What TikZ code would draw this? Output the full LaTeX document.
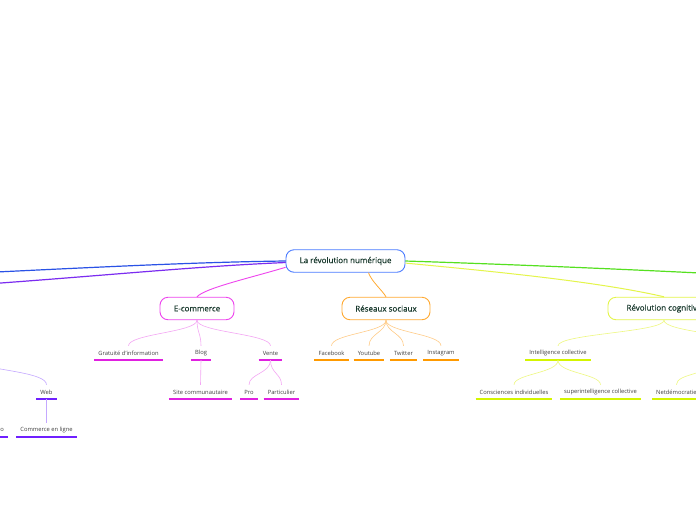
\documentclass[tikz,border=0pt]{standalone}
\usepackage{fontspec}
\setmainfont{Open Sans}
\newfontfamily\semib[FakeBold=0.5]{Open Sans}
\definecolor{ink}{HTML}{1B3B2F}
\definecolor{leafink}{HTML}{404040}
\definecolor{cblue}{HTML}{4A7BFF}
\definecolor{lblue}{HTML}{2A52E6}
\definecolor{lpurple}{HTML}{7B2CF0}
\definecolor{lgreen}{HTML}{55E020}
\definecolor{ylw}{HTML}{E4F54A}
\definecolor{ylwc}{HTML}{EEF880}
\definecolor{ylwu}{HTML}{D4F500}
\definecolor{mag}{HTML}{EE44EE}
\definecolor{magc}{HTML}{F4A6F4}
\definecolor{magu}{HTML}{E020E0}
\definecolor{org}{HTML}{FFAA33}
\definecolor{orgc}{HTML}{FFCC88}
\definecolor{orgu}{HTML}{FF9A00}
\definecolor{purc}{HTML}{C4A8FF}
\definecolor{puru}{HTML}{7020FF}
\tikzset{
  mainbox/.style={draw, rounded corners=8pt, line width=0.9pt, minimum height=22.5pt,
    inner sep=0pt, font=\semib\fontsize{8}{10}\selectfont, text=ink, fill=white},
  leaf/.style={minimum height=14pt, inner ysep=0pt, inner xsep=4pt,
    font=\fontsize{5.8}{7}\selectfont, text=leafink},
  trunk/.style={line width=1.2pt},
  twig/.style={line width=0.6pt},
  uline/.style={line width=1.5pt}
}
\begin{document}
\begin{tikzpicture}[x=1pt,y=-1pt]
\useasboundingbox (0,0) rectangle (696,520);
\clip (0,0) rectangle (696,520);
\fill[white] (0,0) rectangle (696,520);

% off-screen anchor points
\coordinate (offblue) at (-20,272.8);
\coordinate (offpurple) at (-20,284.5);
\coordinate (offgreen) at (720,274);
\coordinate (rc2) at (745,346);
\coordinate (netp) at (712,361);
\coordinate (webp) at (-40,361);

% trunk connectors
\draw[trunk, lblue] (offblue) .. controls (100,267) and (200,262) .. (286,261);
\draw[trunk, lpurple] (offpurple) .. controls (100,276) and (200,266) .. (286,262.5);
\draw[trunk, lgreen] (405,261) .. controls (500,264) and (620,269) .. (offgreen);

% nodes
\node[mainbox, draw=cblue, minimum width=119pt] (root) at (345.5,261) {La révolution numérique};
\node[mainbox, draw=mag, minimum width=74pt] (ecom) at (197,308.5) {E-commerce};
\node[mainbox, draw=org, minimum width=88pt] (rs) at (386,308.5) {Réseaux sociaux};
\node[mainbox, draw=ylw, minimum width=112pt] (rc) at (664,308.5) {Révolution cognitive};

\draw[trunk, mag, line width=0.9pt] (root.186) .. controls (250,278) and (205,288) .. (ecom.north);
\draw[org, line width=0.8pt] (root.333) .. controls (372,282) and (382,290) .. (rs.north);
\draw[ylw, line width=1pt] (root.358) .. controls (500,272) and (600,282) .. (rc.north);

% E-commerce leaves
\node[leaf] (grat) at (128.5,353) {Gratuité d'information};
\node[leaf] (blog) at (201,353) {Blog};
\node[leaf] (vente) at (270.5,353) {Vente};
\node[leaf] (site) at (200.5,392) {Site communautaire};
\node[leaf] (pro) at (249,392) {Pro};
\node[leaf] (part) at (281.5,392) {Particulier};
\foreach \n in {grat,blog,vente,site,pro,part}
  \draw[uline, magu] (\n.south west) -- (\n.south east);
\foreach \n in {grat,blog,vente}
  \draw[twig, magc] (ecom.south) .. controls +(0,12) and +(0,-12) .. (\n.north);
\draw[twig, magc] (blog.south) -- (site.north);
\foreach \n in {pro,part}
  \draw[twig, magc] (vente.south) .. controls +(0,13) and +(0,-11) .. (\n.north);

% Réseaux sociaux leaves
\node[leaf] (fb) at (331.5,353) {Facebook};
\node[leaf] (yt) at (369,353) {Youtube};
\node[leaf] (tw) at (403.5,353) {Twitter};
\node[leaf] (ig) at (441,353) {Instagram};
\foreach \n in {fb,yt,tw,ig} {
  \draw[uline, orgu] (\n.south west) -- (\n.south east);
  \draw[twig, orgc] (rs.south) .. controls +(0,12) and +(0,-12) .. (\n.north);
}

% Révolution cognitive leaves
\node[leaf] (ic) at (558,353) {Intelligence collective};
\node[leaf] (ci) at (514,392) {Consciences individuelles};
\node[leaf] (si) at (600.5,392) {superintelligence collective};
\node[leaf, anchor=west] (netd) at (652,392) {Netdémocratie};
\foreach \n in {ic,ci,si,netd}
  \draw[uline, ylwu] (\n.south west) -- (\n.south east);
\draw[twig, ylwc] (rc.south) .. controls +(0,12) and +(0,-12) .. (ic.north);
\draw[twig, ylwc] (rc.south) .. controls +(0,12) and +(0,-12) .. (rc2);
\foreach \n in {ci,si}
  \draw[twig, ylwc] (ic.south) .. controls +(0,13) and +(0,-11) .. (\n.north);
\draw[twig, ylwc] (netp) .. controls +(0,14) and +(0,-12) .. (netd.north);

% left branch leaves
\node[leaf] (web) at (46.5,392) {Web};
\node[leaf] (cel) at (46.5,430) {Commerce en ligne};
\node[leaf, anchor=east] (ocut) at (8,430) {o};
\foreach \n in {web,cel,ocut}
  \draw[uline, puru] (\n.south west) -- (\n.south east);
\draw[twig, purc] (webp) .. controls +(40,10) and +(0,-12) .. (web.north);
\draw[twig, purc] (web.south) -- (cel.north);
\end{tikzpicture}
\end{document}
